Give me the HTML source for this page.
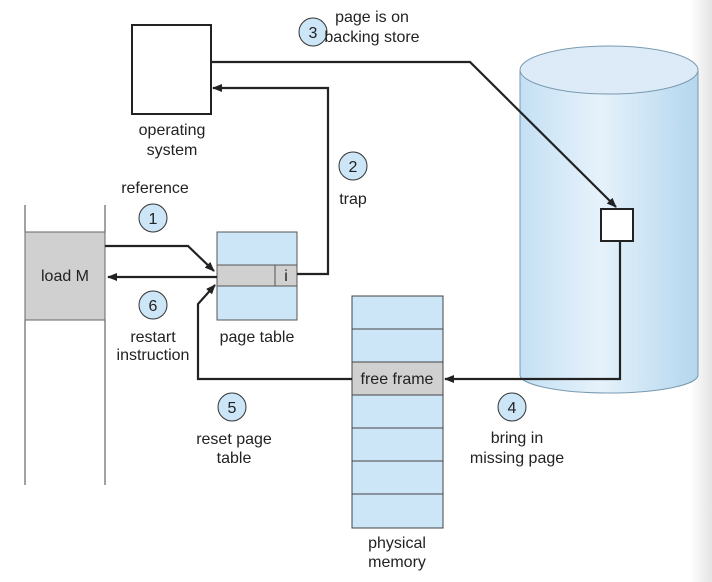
<!DOCTYPE html>
<html><head><style>
body{margin:0;background:#fff}
svg{display:block}
text{font-family:"Liberation Sans",sans-serif;font-size:16px;fill:#222}
</style></head><body>
<svg width="712" height="582" viewBox="0 0 712 582" xmlns="http://www.w3.org/2000/svg">
<defs>
<linearGradient id="cyl" x1="0" x2="1">
<stop offset="0" stop-color="#c4e0f4"/><stop offset="0.45" stop-color="#e6f2fb"/><stop offset="1" stop-color="#b4d6ee"/>
</linearGradient>
<linearGradient id="edge" x1="0" x2="1"><stop offset="0" stop-color="#fff"/><stop offset="1" stop-color="#e4e4e4"/></linearGradient>
<marker id="a" markerWidth="10" markerHeight="8" refX="9" refY="4" orient="auto" markerUnits="userSpaceOnUse"><path d="M0,0 L10,4 L0,8 z" fill="#222"/></marker>
</defs>
<rect x="690" y="0" width="22" height="582" fill="url(#edge)"/>
<path d="M520,70 L520,375 A89,18 0 0 0 698,375 L698,70 Z" fill="url(#cyl)" stroke="#7a9ab0" stroke-width="1"/>
<ellipse cx="609" cy="70" rx="89" ry="24" fill="#dcebf7" stroke="#7a9ab0"/>
<rect x="601" y="209" width="32" height="32" fill="#fff" stroke="#222" stroke-width="2"/>
<rect x="132" y="25" width="79" height="89" fill="#fff" stroke="#222" stroke-width="2"/>
<line x1="25" y1="205" x2="25" y2="485" stroke="#444" stroke-width="1"/>
<line x1="105" y1="205" x2="105" y2="485" stroke="#444" stroke-width="1"/>
<rect x="25" y="232" width="80" height="88" fill="#d0d0d0" stroke="#666" stroke-width="1"/>
<text x="65" y="281" text-anchor="middle">load M</text>
<rect x="217" y="232" width="80" height="88" fill="#cde6f7" stroke="#555"/>
<rect x="217" y="265" width="80" height="21" fill="#d0d0d0" stroke="#555"/>
<line x1="275" y1="265" x2="275" y2="286" stroke="#555"/>
<text x="286" y="281" text-anchor="middle">i</text>
<rect x="352" y="296" width="91" height="232" fill="#cde6f7" stroke="#444"/>
<rect x="352" y="362" width="91" height="33" fill="#d0d0d0" stroke="#444"/>
<g stroke="#444"><line x1="352" y1="329" x2="443" y2="329"/><line x1="352" y1="428" x2="443" y2="428"/><line x1="352" y1="461" x2="443" y2="461"/><line x1="352" y1="494" x2="443" y2="494"/></g>
<text x="397" y="384" text-anchor="middle">free frame</text>
<g fill="none" stroke="#222" stroke-width="2.2">
<polyline points="211,62 470,62 616,207" marker-end="url(#a)"/>
<polyline points="297,274 328,274 328,88 213,88" marker-end="url(#a)"/>
<polyline points="105,246 188,246 214,271" marker-end="url(#a)"/>
<line x1="217" y1="277" x2="108" y2="277" marker-end="url(#a)"/>
<polyline points="352,379 198,379 198,304 215,285" marker-end="url(#a)"/>
<polyline points="620,241 620,379 445,379" marker-end="url(#a)"/>
</g>
<g fill="#cde6f7" stroke="#333" stroke-width="1">
<circle cx="313" cy="32" r="14"/><circle cx="353" cy="166" r="14"/><circle cx="153" cy="218" r="14"/>
<circle cx="153" cy="305" r="14"/><circle cx="232" cy="407" r="14"/><circle cx="512" cy="407" r="14"/>
</g>
<g text-anchor="middle">
<text x="313" y="38">3</text><text x="353" y="172">2</text><text x="153" y="224">1</text>
<text x="153" y="311">6</text><text x="232" y="413">5</text><text x="512" y="413">4</text>
<text x="372" y="22">page is on</text><text x="372" y="42">backing store</text>
<text x="172" y="135">operating</text><text x="172" y="155">system</text>
<text x="155" y="193">reference</text>
<text x="353" y="204">trap</text>
<text x="153" y="342">restart</text><text x="153" y="360">instruction</text>
<text x="257" y="342">page table</text>
<text x="234" y="444">reset page</text><text x="234" y="463">table</text>
<text x="517" y="443">bring in</text><text x="517" y="463">missing page</text>
<text x="397" y="548">physical</text><text x="397" y="567">memory</text>
</g>
</svg>
</body></html>
